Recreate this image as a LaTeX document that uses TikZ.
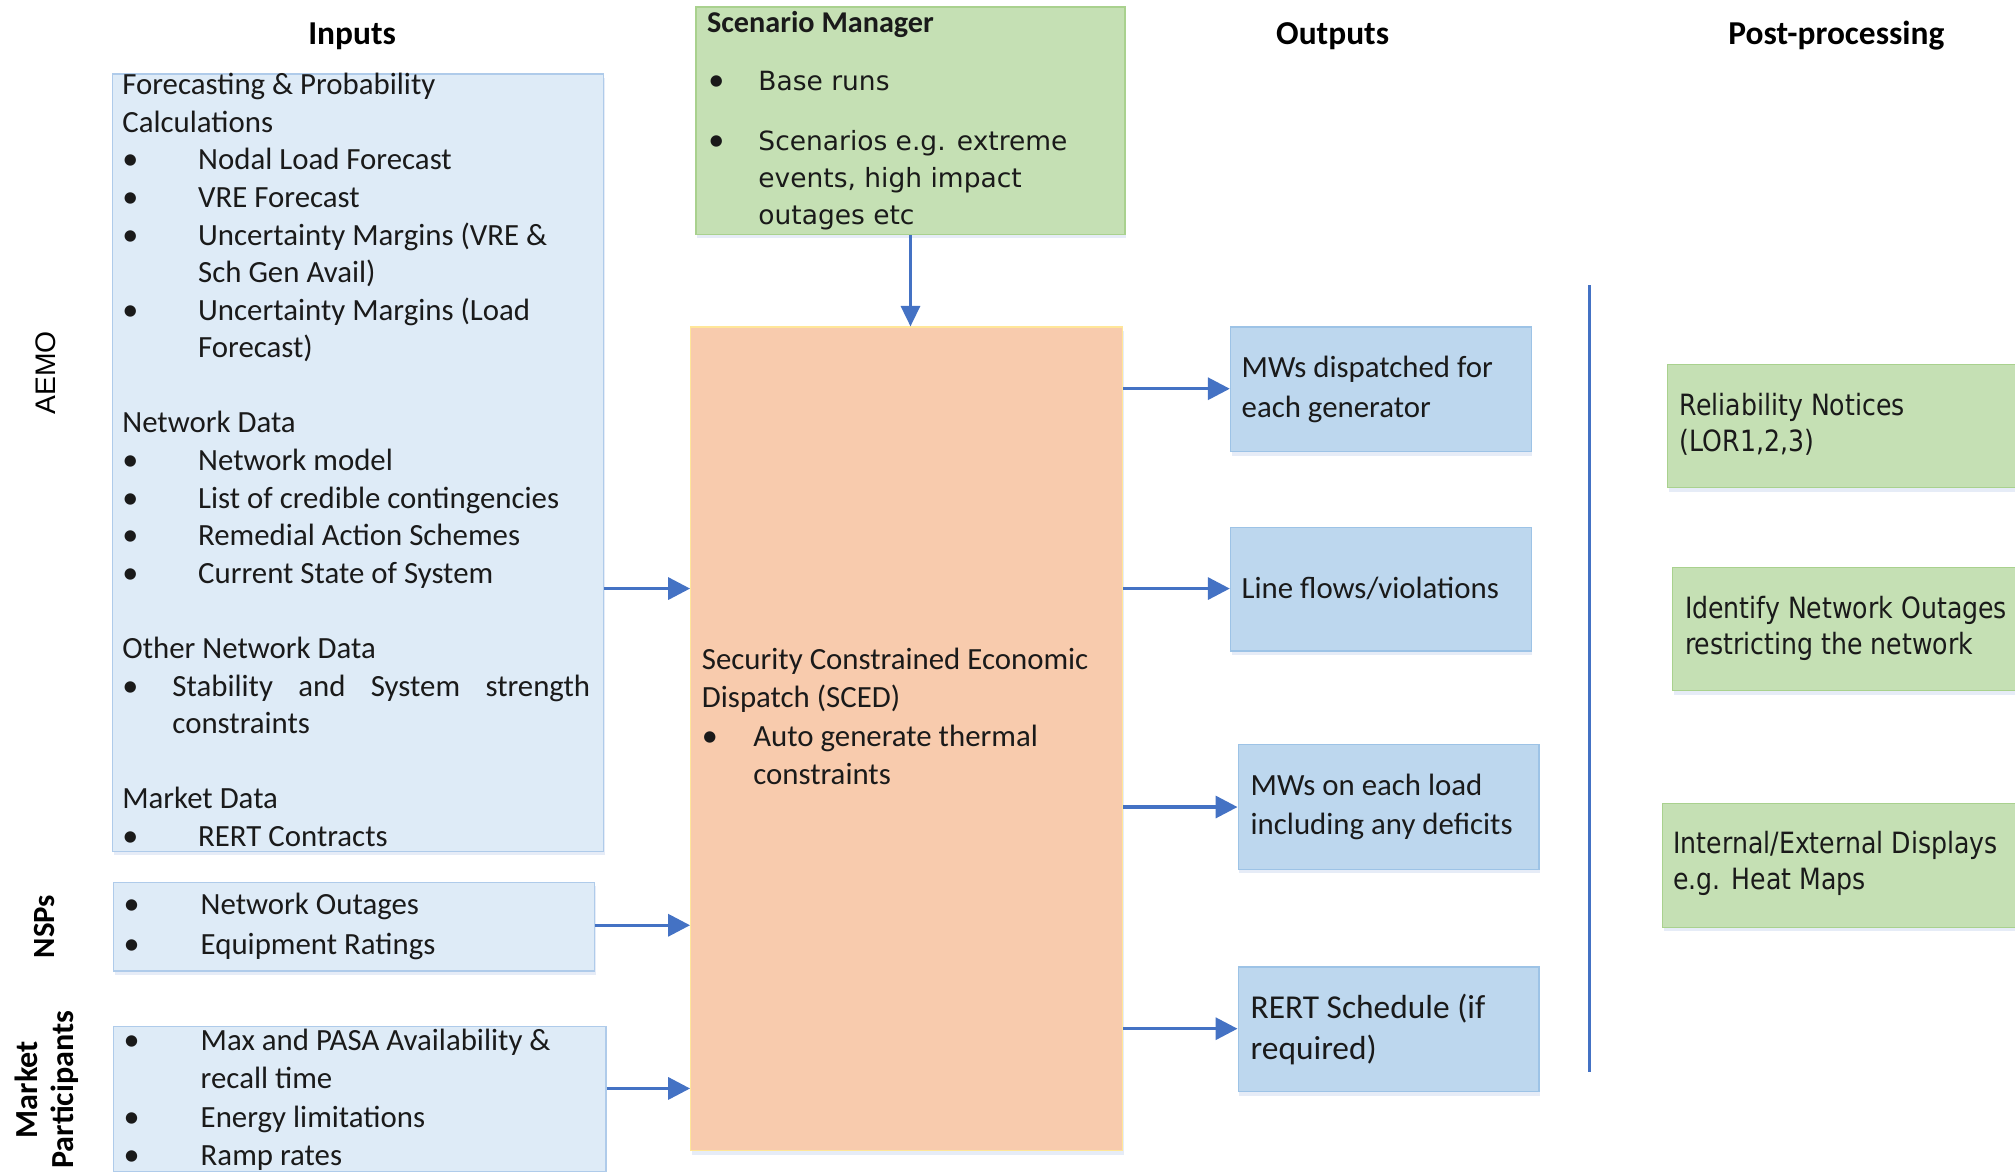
\documentclass[tikz,border=0pt]{standalone}
\usepackage{fontspec}
\setmainfont{Carlito}
\newfontfamily\dvfont{DejaVu Sans}
\newfontfamily\ppfont[FakeStretch=0.86]{DejaVu Sans}
\newfontfamily\arfont{Liberation Sans}
\usetikzlibrary{arrows.meta,shadows}
\definecolor{inFill}{HTML}{DEEBF7}
\definecolor{inDraw}{HTML}{AFCBEA}
\definecolor{outFill}{HTML}{BDD7EE}
\definecolor{outDraw}{HTML}{9DC3E6}
\definecolor{grFill}{HTML}{C5E0B4}
\definecolor{grDraw}{HTML}{A9D18E}
\definecolor{scFill}{HTML}{F8CBAD}
\definecolor{scDraw}{HTML}{FFE699}
\definecolor{arr}{HTML}{4472C4}
\definecolor{ink}{HTML}{1A1A1A}
\newcommand{\fsz}[2]{\fontsize{#1}{#2}\selectfont}
\newcommand{\bul}[1]{\makebox[#1][l]{\rmfamily\fontsize{25}{25}\selectfont\textbullet}}
\newcommand{\ind}[1]{\hspace*{#1}}
\begin{document}
\begin{tikzpicture}[x=1pt,y=-1pt,
  box/.style={draw, line width=1pt, inner sep=0, anchor=north west,
    drop shadow={shadow xshift=1pt, shadow yshift=-3pt, opacity=0.22, fill=arr!60}},
  inbox/.style={box, fill=inFill, draw=inDraw},
  outbox/.style={box, fill=outFill, draw=outDraw},
  grbox/.style={box, fill=grFill, draw=grDraw},
  scbox/.style={box, fill=scFill, draw=scDraw},
  txt/.style={anchor=north west, inner sep=0, align=left, text=ink},
  btxt/.style={anchor=base west, inner sep=0, text=ink},
  head/.style={anchor=base, inner sep=0, text=black, font=\bfseries\fsz{26}{30}},
  side/.style={rotate=90, inner sep=0, text=black},
  link/.style={draw=arr, line width=2.7pt, -{Triangle[length=17pt,width=17pt]}},
  divider/.style={draw=arr, line width=2.5pt}
]
\useasboundingbox (0,0) rectangle (1568,912);
\clip (0,0) rectangle (1568,912);

% headings
\node[head] (hIn) at (274,34.5) {Inputs};
\node[head] (hOut) at (1037,34.5) {Outputs};
\node[head] (hPost) at (1429,34.5) {Post-processing};

% side labels
\node[side, font=\arfont\fsz{22}{26}] (lA) at (35.5,290) {AEMO};
\node[side, font=\bfseries\fsz{24}{28}] (lN) at (35,721) {NSPs};
\node[side, align=center, font=\bfseries\fsz{25}{28}] (lM) at (36,848) {Market\\Participants};

% boxes
\node[inbox, minimum width=382, minimum height=605] (inA) at (87,57) {};
\node[inbox, minimum width=374, minimum height=69] (inN) at (88,686) {};
\node[inbox, minimum width=383, minimum height=113] (inM) at (88,798) {};
\node[grbox, minimum width=334, minimum height=177] (scen) at (541,5) {};
\node[scbox, minimum width=336, minimum height=641] (sced) at (537,254) {};
\node[outbox, minimum width=234, minimum height=97] (o1) at (957,254) {};
\node[outbox, minimum width=234, minimum height=96] (o2) at (957,410) {};
\node[outbox, minimum width=234, minimum height=97] (o3) at (963,579) {};
\node[outbox, minimum width=234, minimum height=97] (o4) at (963,752) {};
\node[grbox, minimum width=300, minimum height=96] (p1) at (1297,283) {};
\node[grbox, minimum width=300, minimum height=96] (p2) at (1301,441) {};
\node[grbox, minimum width=300, minimum height=96] (p3) at (1293,625) {};

% texts
\node[txt, font=\fsz{24}{29.25}] (tA) at (95,53) {\strut Forecasting \& Probability\\
Calculations\\
\bul{59pt}Nodal Load Forecast\\
\bul{59pt}VRE Forecast\\
\bul{59pt}Uncertainty Margins (VRE \&\\
\ind{59pt}Sch Gen Avail)\\
\bul{59pt}Uncertainty Margins (Load\\
\ind{59pt}Forecast)\\
\mbox{}\\
Network Data\\
\bul{59pt}Network model\\
\bul{59pt}List of credible contingencies\\
\bul{59pt}Remedial Action Schemes\\
\bul{59pt}Current State of System\\
\mbox{}\\
Other Network Data\\
\bul{39pt}\makebox[325pt][s]{Stability and System strength}\\
\ind{39pt}constraints\\
\mbox{}\\
Market Data\\
\bul{59pt}RERT Contracts};

\node[txt, font=\fsz{24}{31}] (tN) at (96,689.8) {\strut\bul{60pt}Network Outages\\
\bul{60pt}Equipment Ratings};

\node[txt, font=\fsz{24}{29.7}] (tM) at (96,796.7) {\strut\bul{60pt}Max and PASA Availability \&\\
\ind{60pt}recall time\\
\bul{60pt}Energy limitations\\
\bul{60pt}Ramp rates};

\node[btxt, font=\bfseries\fsz{23.5}{28}] (tS1) at (550,25.5) {Scenario Manager};
\node[txt, font=\dvfont\fsz{20.6}{28.8}] (tS2) at (551,49.8) {\strut\bul{39pt}Base runs\\[18.2pt]
\bul{39pt}Scenarios e.g. extreme\\
\ind{39pt}events, high impact\\
\ind{39pt}outages etc};

\node[txt, font=\fsz{24}{29.5}] (tC) at (546,499.85) {\strut Security Constrained Economic\\
Dispatch (SCED)\\[1.5pt]
\bul{40pt}Auto generate thermal\\
\ind{40pt}constraints};

\node[txt, font=\fsz{24}{31}] (tO1) at (966,271.8) {\strut MWs dispatched for\\ each generator};
\node[btxt, font=\fsz{24}{29}] (tO2) at (966,465.5) {Line flows/violations};
\node[txt, font=\fsz{24}{31}] (tO3) at (973,596.8) {\strut MWs on each load\\ including any deficits};
\node[txt, font=\fsz{26}{32}] (tO4) at (973,769.6) {\strut RERT Schedule (if\\ required)};

\node[txt, font=\ppfont\fsz{22.8}{28}] (tP1) at (1307,303.4) {\strut Reliability Notices\\ (LOR1,2,3)};
\node[txt, font=\ppfont\fsz{22.8}{28}] (tP2) at (1311,461.4) {\strut Identify Network Outages\\ restricting the network};
\node[txt, font=\ppfont\fsz{22.8}{28}] (tP3) at (1302,644.4) {\strut Internal/External Displays\\ e.g. Heat Maps};

% connectors
\coordinate (yA) at (0,458);
\coordinate (yN) at (0,720);
\coordinate (yM) at (0,847);
\coordinate (y1) at (0,302.5);
\coordinate (y2) at (0,458);
\coordinate (y3) at (0,628);
\coordinate (y4) at (0,800.5);
\draw[link] (inA.east |- yA) -- (sced.west |- yA);
\draw[link] (inN.east |- yN) -- (sced.west |- yN);
\draw[link] (inM.east |- yM) -- (sced.west |- yM);
\draw[link] (sced.east |- y1) -- (o1.west |- y1);
\draw[link] (sced.east |- y2) -- (o2.west |- y2);
\draw[link] (sced.east |- y3) -- (o3.west |- y3);
\draw[link] (sced.east |- y4) -- (o4.west |- y4);
\draw[link, line width=2pt, -{Triangle[length=16pt,width=15pt]}] (scen.south) -- (scen.south |- sced.north);

\coordinate (vt) at (1237,222);
\coordinate (vb) at (1237,834);
\draw[divider] (vt) -- (vb);
\end{tikzpicture}
\end{document}
